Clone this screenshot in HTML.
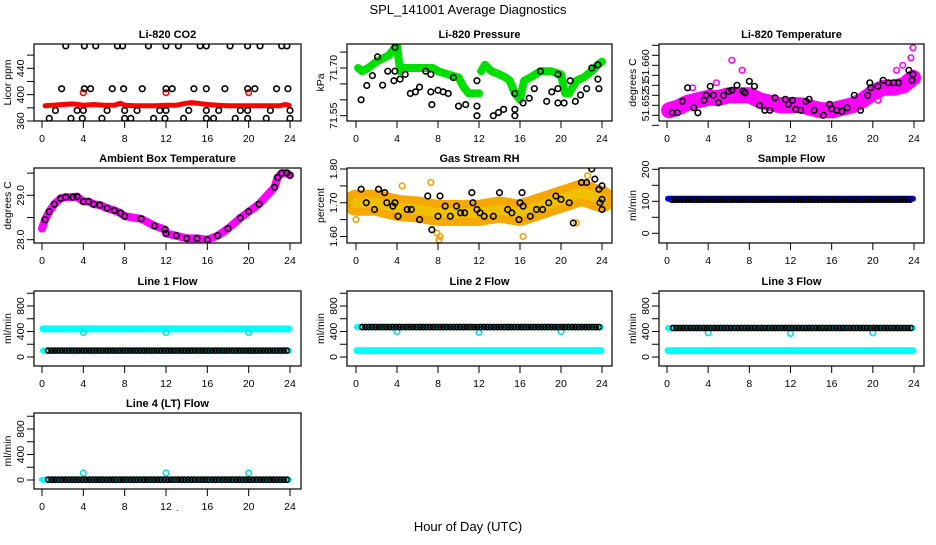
<!DOCTYPE html>
<html><head><meta charset="utf-8"><style>
html,body{margin:0;padding:0;background:#fff}
svg text{font-family:"Liberation Sans",sans-serif;fill:#000}
</style></head><body>
<svg id="c" width="936" height="540" viewBox="0 0 936 540" xmlns="http://www.w3.org/2000/svg">
<rect width="936" height="540" fill="#fff"/>
<text x="468" y="14" text-anchor="middle" font-size="13">SPL_141001  Average Diagnostics</text>
<text x="468" y="531" text-anchor="middle" font-size="13">Hour of Day (UTC)</text>
<text x="176" y="511" font-size="9">.</text>
</svg>
<script>
// ---- data ----
const xTicks = [0,4,8,12,16,20,24];
// CO2
const co2BandH = [0.3,1,2,3,4,5,6,7,7.6,8,9,10,11,12,13,14,14.5,15,16,17,18,19,20,21,22,23,23.5,23.9];
const co2BandV = [383,384,385,386,384,385,384,384,387,384,383,383,383,384,384,387,388,387,385,384,383,383,383,383,383,383,385,384];
const co2RedH = [4,12,20];
const co2RedV = [403,403,403];
const co2BlkH = [2.3,4.1,5.2,7.3,7.8,10.3,12,13.2,15.3,15.9,18.2,19.9,21.1,23.2,23.7, 1.9,4.1,4.7,6.8,7.9,9.7,12,12.6,14.7,15.9,17.7,19.9,20.6,22.7,23.8, 1.3,3.4,4,6.3,8,9.2,11.4,12,14.2,15.9,17.1,19.2,19.9,22.1,24, 0.7,2.8,3.9,5.8,8,8.6,10.8,11.9,13.7,15.9,16.6,18.7,19.9,21.7,24];
const co2BlkV = [474,474,474,474,474,474,474,474,474,474,474,474,474,474,474, 409,409,409,409,409,409,409,409,409,409,409,409,409,409,409, 376,376,376,376,376,376,376,376,376,376,376,376,376,376,376, 364,364,364,364,364,364,364,364,364,364,364,364,364,364,364];
// Pressure
const presBandH1 = [0.2,0.6,1.2,2,2.6,3.2,3.7,4,4.3,4.7,5.5,6.5,7.5,8,9,10,10.5,11,11.5,12];
const presBandV1 = [71.70,71.69,71.70,71.72,71.73,71.74,71.76,71.77,71.69,71.70,71.70,71.70,71.70,71.69,71.68,71.67,71.64,71.62,71.62,71.62];
const presBandH2 = [12.2,12.6,13.2,14,14.6,15,15.5,16,16.4,17,18,19,20,20.4,20.8,21.5,22.2,23,23.6,24];
const presBandV2 = [71.69,71.71,71.69,71.68,71.67,71.66,71.62,71.60,71.66,71.67,71.69,71.69,71.68,71.62,71.62,71.66,71.67,71.69,71.71,71.72];
const presBlkH = [0.5,1.05,1.6,2.1,2.6,3.1,3.7,3.8,3.8,4.3,4.8,5.3,5.8,6.2,6.8,7.3,7.3,7.4,8,8.5,9,9.5,10,10.7,11.8,11.8,11.8,13.4,13.9,14.4,15.5,15.5,15.5,16.3,16.9,17.4,18,18.6,19.1,19.7,19.7,19.7,20.3,20.9,21.4,21.9,22.5,23,23.6,23.6,23.7];
const presBlkV = [71.60,71.645,71.676,71.735,71.646,71.69,71.66,71.69,71.765,71.665,71.68,71.62,71.625,71.64,71.69,71.68,71.625,71.585,71.63,71.625,71.62,71.67,71.58,71.585,71.58,71.66,71.55,71.55,71.56,71.57,71.57,71.55,71.62,71.59,71.605,71.635,71.69,71.595,71.625,71.635,71.59,71.68,71.59,71.66,71.595,71.615,71.635,71.70,71.71,71.665,71.635];
// Temperature
const tempBandH = [0.2,1,2,3,4,5,6,7,8,9,10,11,12,13,14,15,16,17,18,19,20,21,22,23,23.9];
const tempBandV = [51.6510,51.6515,51.6525,51.6530,51.6535,51.6535,51.6540,51.6540,51.6540,51.6530,51.6525,51.6520,51.6520,51.6520,51.6515,51.6510,51.6510,51.6515,51.6520,51.6530,51.6545,51.6555,51.6555,51.6560,51.6575];
const tempOutH = [2.5,6.3,7.3,22.3,22.9,23.7,23.9,4.8,20.5];
const tempOutV = [51.6555,51.6610,51.6590,51.6590,51.6600,51.6615,51.6635,51.6565,51.6530];
const tempBlkH = [0.5,1,1.5,2,2.6,3,3.6,3.8,4.2,4.5,5,5.5,6,6.3,6.8,7.4,7.6,8,8.5,9,9.5,10,10.5,11.5,11.8,12.2,12.5,13,13.5,13.8,14.3,15.2,15.8,16,16.5,17,17.5,18.2,18.8,19.5,19.7,19.8,20.5,21,21.5,22,22.5,23.5,23.8,23.9];
const tempBlkV = [51.6505,51.6505,51.6528,51.6555,51.6515,51.6505,51.6530,51.6540,51.6558,51.6540,51.6525,51.6540,51.6548,51.6550,51.6560,51.6548,51.6545,51.6568,51.6558,51.6520,51.6510,51.6510,51.6535,51.6532,51.6522,51.6530,51.6512,51.6510,51.6528,51.6532,51.6510,51.6500,51.6522,51.6513,51.6510,51.6508,51.6515,51.6540,51.6510,51.6540,51.6565,51.6555,51.6558,51.6570,51.6565,51.6565,51.6565,51.6590,51.6570,51.6582];
// Ambient box temperature
const ambH = [0,0.3,0.7,1.2,1.8,2.3,3,3.4,4,4.5,5,5.6,6.3,7,7.6,8,9.6,10.9,11.9,12,13,14,15,16,17,18,19.2,20,21,22.5,22.8,23.2,23.7,24];
const ambV = [28.25,28.45,28.63,28.8,28.93,28.96,28.96,28.97,28.86,28.86,28.8,28.78,28.71,28.66,28.6,28.53,28.47,28.31,28.23,28.14,28.09,28.03,28.03,28.0,28.09,28.25,28.49,28.63,28.8,29.18,29.4,29.5,29.5,29.45];
// Gas stream RH
const rhBandH = [0,2,4,6,8,10,12,14,16,18,20,22,24];
const rhBandV = [1.70,1.70,1.685,1.68,1.67,1.67,1.67,1.68,1.67,1.69,1.71,1.73,1.71];
const rhOutH = [0,7.9,8.2,16.3,8.1,22.6,4.5,7.3,21.5];
const rhOutV = [1.65,1.61,1.60,1.60,1.59,1.78,1.75,1.76,1.64];
const rhBlkH = [0.5,1,1.8,2.2,2.8,3,3.6,3.8,4.1,5,5.4,6.2,7,7.4,8,8.2,8.7,9.2,9.8,10.2,10.6,11.3,11.4,11.8,12.1,12.5,13.4,14,14.8,15.2,15.9,16,16.2,16.3,17,17.6,18.2,18.8,19.5,20,20.8,21.2,22,22.5,23,23.3,23.7,23.8,24,24,24];
const rhBlkV = [1.74,1.70,1.68,1.74,1.73,1.70,1.69,1.70,1.66,1.68,1.68,1.65,1.72,1.62,1.66,1.72,1.69,1.66,1.69,1.67,1.67,1.73,1.70,1.68,1.67,1.66,1.66,1.73,1.68,1.67,1.65,1.70,1.73,1.69,1.66,1.68,1.68,1.70,1.72,1.71,1.70,1.64,1.76,1.76,1.80,1.77,1.74,1.70,1.68,1.75,1.71];
// Sample flow (hourly values)
const sampleBlue = [108,108,108,108,108,108,108,108,108,108,108,108,108,108,108,108,108,108,108,108,108,108,108,108,108];
const sampleBlack = [105,105,105,105,105,105,105,105,105,105,105,105,105,105,105,105,105,105,105,105,105,105,105,105,105];
// Line flows (hourly values)
const line1CyanHi = [440,440,440,440,440,440,440,440,440,440,440,440,440,440,440,440,440,440,440,440,440,440,440,440,440];
const line1CyanLo = [100,100,100,100,100,100,100,100,100,100,100,100,100,100,100,100,100,100,100,100,100,100,100,100,100];
const line1Black  = [100,100,100,100,100,100,100,100,100,100,100,100,100,100,100,100,100,100,100,100,100,100,100,100,100];
const line1DipV = [385,385,385];
const line2CyanHi = [470,470,470,470,470,470,470,470,470,470,470,470,470,470,470,470,470,470,470,470,470,470,470,470,470];
const line2CyanLo = [100,100,100,100,100,100,100,100,100,100,100,100,100,100,100,100,100,100,100,100,100,100,100,100,100];
const line2Black  = [470,470,470,470,470,470,470,470,470,470,470,470,470,470,470,470,470,470,470,470,470,470,470,470,470];
const line2DipV = [400,385,400];
const line3CyanHi = [455,455,455,455,455,455,455,455,455,455,455,455,455,455,455,455,455,455,455,455,455,455,455,455,455];
const line3CyanLo = [100,100,100,100,100,100,100,100,100,100,100,100,100,100,100,100,100,100,100,100,100,100,100,100,100];
const line3Black  = [455,455,455,455,455,455,455,455,455,455,455,455,455,455,455,455,455,455,455,455,455,455,455,455,455];
const line3DipV = [380,370,380];
const line4Cyan  = [5,5,5,5,5,5,5,5,5,5,5,5,5,5,5,5,5,5,5,5,5,5,5,5,5];
const line4Black = [5,5,5,5,5,5,5,5,5,5,5,5,5,5,5,5,5,5,5,5,5,5,5,5,5];
const line4SpikeV = [110,110,110];
const dipH = [4,12,20];

// ---- drawing ----
const NS = "http://www.w3.org/2000/svg";
const svg = document.getElementById('c');
function mk(tag, attrs, parent) {
  const e = document.createElementNS(NS, tag);
  for (const k in attrs) e.setAttribute(k, attrs[k]);
  (parent || svg).appendChild(e);
  return e;
}
function panel(p) {
  const g = mk('g', {});
  
  
  const sx = h => p.h0 + (h / 24) * (p.h24 - p.h0);
  const sy = v => p.yA + (v - p.vA) / (p.vB - p.vA) * (p.yB - p.yA);
  const t = mk('text', {x: (p.x0 + p.x1) / 2, y: p.y0 - 6, 'text-anchor': 'middle', 'font-size': 11, 'font-weight': 'bold'}, g);
  t.textContent = p.title;
  
  
  xTicks.forEach(h => {
    const x = sx(h);
    mk('line', {x1: x, x2: x, y1: p.y1, y2: p.y1 + 7, stroke: '#000', 'stroke-width': 1}, g);
    const l = mk('text', {x: x, y: p.y1 + 21, 'text-anchor': 'middle', 'font-size': 10.5}, g);
    l.textContent = h;
    
    
  });
  p.yt.forEach(v => {
    const y = sy(v);
    mk('line', {x1: p.x0 - 7, x2: p.x0, y1: y, y2: y, stroke: '#000', 'stroke-width': 1}, g);
  });
  p.yl.forEach((v, i) => {
    const y = sy(v);
    const l = mk('text', {x: 0, y: 0, transform: `translate(${p.x0 - 10},${y}) rotate(-90)`, 'text-anchor': 'middle', 'font-size': 10.5}, g);
    l.textContent = p.ylt ? p.ylt[i] : v;
    
    
  });
  const yl = mk('text', {x: 0, y: 0, transform: `translate(${p.x0 - 23},${(p.y0 + p.y1) / 2}) rotate(-90)`, 'text-anchor': 'middle', 'font-size': 10.5}, g);
  yl.textContent = p.ylab;
  
  
  const cp = 'clip-' + p.name;
  const cl = mk('clipPath', {id: cp}, g);
  mk('rect', {x: p.x0, y: p.y0, width: p.x1 - p.x0, height: p.y1 - p.y0}, cl);
  const plot = mk('g', {'clip-path': `url(#${cp})`}, g);
  const box = mk('rect', {x: p.x0, y: p.y0, width: p.x1 - p.x0, height: p.y1 - p.y0, fill: 'none', stroke: '#000', 'stroke-width': 1.2}, g);
  
  
  return {sx, sy, g: plot};
}
function band(P, hs, vs, color, w, name) {
  const pts = hs.map((h, i) => P.sx(h).toFixed(1) + ',' + P.sy(vs[i]).toFixed(1)).join(' ');
  const e = mk('polyline', {points: pts, fill: 'none', stroke: color, 'stroke-width': w, 'stroke-linejoin': 'round', 'stroke-linecap': 'round'}, P.g);
  
  
}
function pts(P, hs, vs, color, name, r) {
  hs.forEach((h, i) => {
    const e = mk('circle', {cx: P.sx(h), cy: P.sy(vs[i]), r: r || 2.8, fill: 'none', stroke: color, 'stroke-width': 1.6}, P.g);
    
    
  });
}
function hourlyPts(P, vals, h0, h1, step, color, name) {
  for (let h = h0; h <= h1 + 1e-6; h += step) {
    const i = Math.min(24, Math.floor(h));
    const e = mk('circle', {cx: P.sx(h), cy: P.sy(vals[i]), r: 2.6, fill: 'none', stroke: color, 'stroke-width': 1.6}, P.g);
    
    
  }
}
const hours = vals => vals.map((v, i) => i);
function hourlyBand(P, vals, color, w, name, s, e) {
  const hs = hours(vals).map(h => Math.min(e, Math.max(s, h)));
  band(P, hs, vals, color, w, name);
}
const C1 = {x0: 34, x1: 301, h0: 42, h24: 290};
const C2 = {x0: 347, x1: 612, h0: 356, h24: 602};
const C3 = {x0: 659, x1: 924, h0: 667, h24: 914};
const R1 = {y0: 44, y1: 121}, R2 = {y0: 168, y1: 243}, R3 = {y0: 291, y1: 366}, R4 = {y0: 413, y1: 489};
const flowY = {vA: 0, vB: 800, yt: [0,200,400,600,800,1000], yl: [0,400,800], ylab: 'ml/min'};

// CO2
let P = panel(Object.assign({name: 'co2-panel', title: 'Li-820 CO2', ylab: 'Licor ppm', vA: 360, yA: 121, vB: 440, yB: 68.3, yt: [360,380,400,420,440,460], yl: [360,400,440]}, C1, R1));
band(P, co2BandH, co2BandV, '#ff0000', 5, 'co2-series');
pts(P, co2RedH, co2RedV, '#ff0000', 'co2-red-point');
pts(P, co2BlkH, co2BlkV, '#000', 'co2-black-point');
// Pressure
P = panel(Object.assign({name: 'pressure-panel', title: 'Li-820 Pressure', ylab: 'kPa', vA: 71.55, yA: 115.7, vB: 71.70, yB: 68, yt: [71.55,71.60,71.65,71.70,71.75], yl: [71.55,71.70], ylt: ['71.55','71.70']}, C2, R1));
band(P, presBandH1, presBandV1, '#00e000', 8, 'pressure-series');
band(P, presBandH2, presBandV2, '#00e000', 8, 'pressure-series');
pts(P, presBlkH, presBlkV, '#000', 'pressure-black-point');
// Temperature
P = panel(Object.assign({name: 'temperature-panel', title: 'Li-820 Temperature', ylab: 'degrees C', vA: 51.652, yA: 105.3, vB: 51.660, yB: 65.3, yt: [51.648,51.650,51.652,51.654,51.656,51.658,51.660,51.662,51.664], yl: [51.652,51.656,51.660], ylt: ['51.652','51','51.660']}, C3, R1));
band(P, tempBandH, tempBandV, '#ff00ff', 16, 'temperature-series');
pts(P, tempOutH, tempOutV, '#ff00ff', 'temperature-outlier');
pts(P, tempBlkH, tempBlkV, '#000', 'temperature-black-point');
// Ambient
P = panel(Object.assign({name: 'ambient-temp-panel', title: 'Ambient Box Temperature', ylab: 'degrees C', vA: 28.0, yA: 239.7, vB: 29.0, yB: 195.3, yt: [28.0,28.5,29.0,29.5], yl: [28.0,29.0], ylt: ['28.0','29.0']}, C1, R2));
band(P, ambH, ambV, '#ff00ff', 8, 'ambient-series');
pts(P, ambH.slice(1), ambV.slice(1), '#000', 'ambient-black-point');
// RH
P = panel(Object.assign({name: 'rh-panel', title: 'Gas Stream RH', ylab: 'percent', vA: 1.60, yA: 236.5, vB: 1.80, yB: 169, yt: [1.60,1.65,1.70,1.75,1.80], yl: [1.60,1.70,1.80], ylt: ['1.60','1.70','1.80']}, C2, R2));
band(P, rhBandH, rhBandV, '#f5a800', 26, 'rh-series');
band(P, rhBandH, rhBandV, '#f0c000', 10, 'rh-series-core');
pts(P, rhOutH, rhOutV, '#f0a000', 'rh-outlier');
pts(P, rhBlkH, rhBlkV, '#000', 'rh-black-point');
// Sample flow
P = panel(Object.assign({name: 'sample-flow-panel', title: 'Sample Flow', ylab: 'ml/min', vA: 0, yA: 233.3, vB: 200, yB: 169.3, yt: [0,50,100,150,200], yl: [0,100,200]}, C3, R2));
hourlyBand(P, sampleBlue, '#0000ff', 6, 'sample-flow-series', 0.1, 23.9);
hourlyPts(P, sampleBlack, 0.5, 23.9, 0.33, '#000', 'sample-flow-black-point');
// Line 1
P = panel(Object.assign({name: 'line1-flow-panel', title: 'Line 1 Flow', yA: 357, yB: 306}, flowY, C1, R3));
hourlyBand(P, line1CyanHi, '#00ffff', 7, 'line1-cyan-high', 0.1, 23.9);
hourlyBand(P, line1CyanLo, '#00ffff', 6, 'line1-cyan-low', 0.1, 23.9);
pts(P, dipH, line1DipV, '#00e0e0', 'line1-dip');
hourlyPts(P, line1Black, 0.6, 24, 0.33, '#000', 'line1-black-point');
// Line 2
P = panel(Object.assign({name: 'line2-flow-panel', title: 'Line 2 Flow', yA: 357, yB: 306}, flowY, C2, R3));
hourlyBand(P, line2CyanLo, '#00ffff', 7, 'line2-cyan-low', 0.1, 23.9);
hourlyBand(P, line2CyanHi, '#00ffff', 6, 'line2-cyan-high', 0.1, 23.9);
pts(P, dipH, line2DipV, '#00e0e0', 'line2-dip');
hourlyPts(P, line2Black, 0.6, 24, 0.33, '#000', 'line2-black-point');
// Line 3
P = panel(Object.assign({name: 'line3-flow-panel', title: 'Line 3 Flow', yA: 357, yB: 306}, flowY, C3, R3));
hourlyBand(P, line3CyanLo, '#00ffff', 7, 'line3-cyan-low', 0.1, 23.9);
hourlyBand(P, line3CyanHi, '#00ffff', 6, 'line3-cyan-high', 0.1, 23.9);
pts(P, dipH, line3DipV, '#00e0e0', 'line3-dip');
hourlyPts(P, line3Black, 0.6, 24, 0.33, '#000', 'line3-black-point');
// Line 4
P = panel(Object.assign({name: 'line4-flow-panel', title: 'Line 4 (LT) Flow', yA: 480, yB: 429}, flowY, C1, R4));
hourlyBand(P, line4Cyan, '#00ffff', 6, 'line4-cyan', 0, 23.9);
pts(P, dipH, line4SpikeV, '#00e0e0', 'line4-spike');
hourlyPts(P, line4Black, 0.6, 24, 0.33, '#000', 'line4-black-point');
</script>
</body></html>
